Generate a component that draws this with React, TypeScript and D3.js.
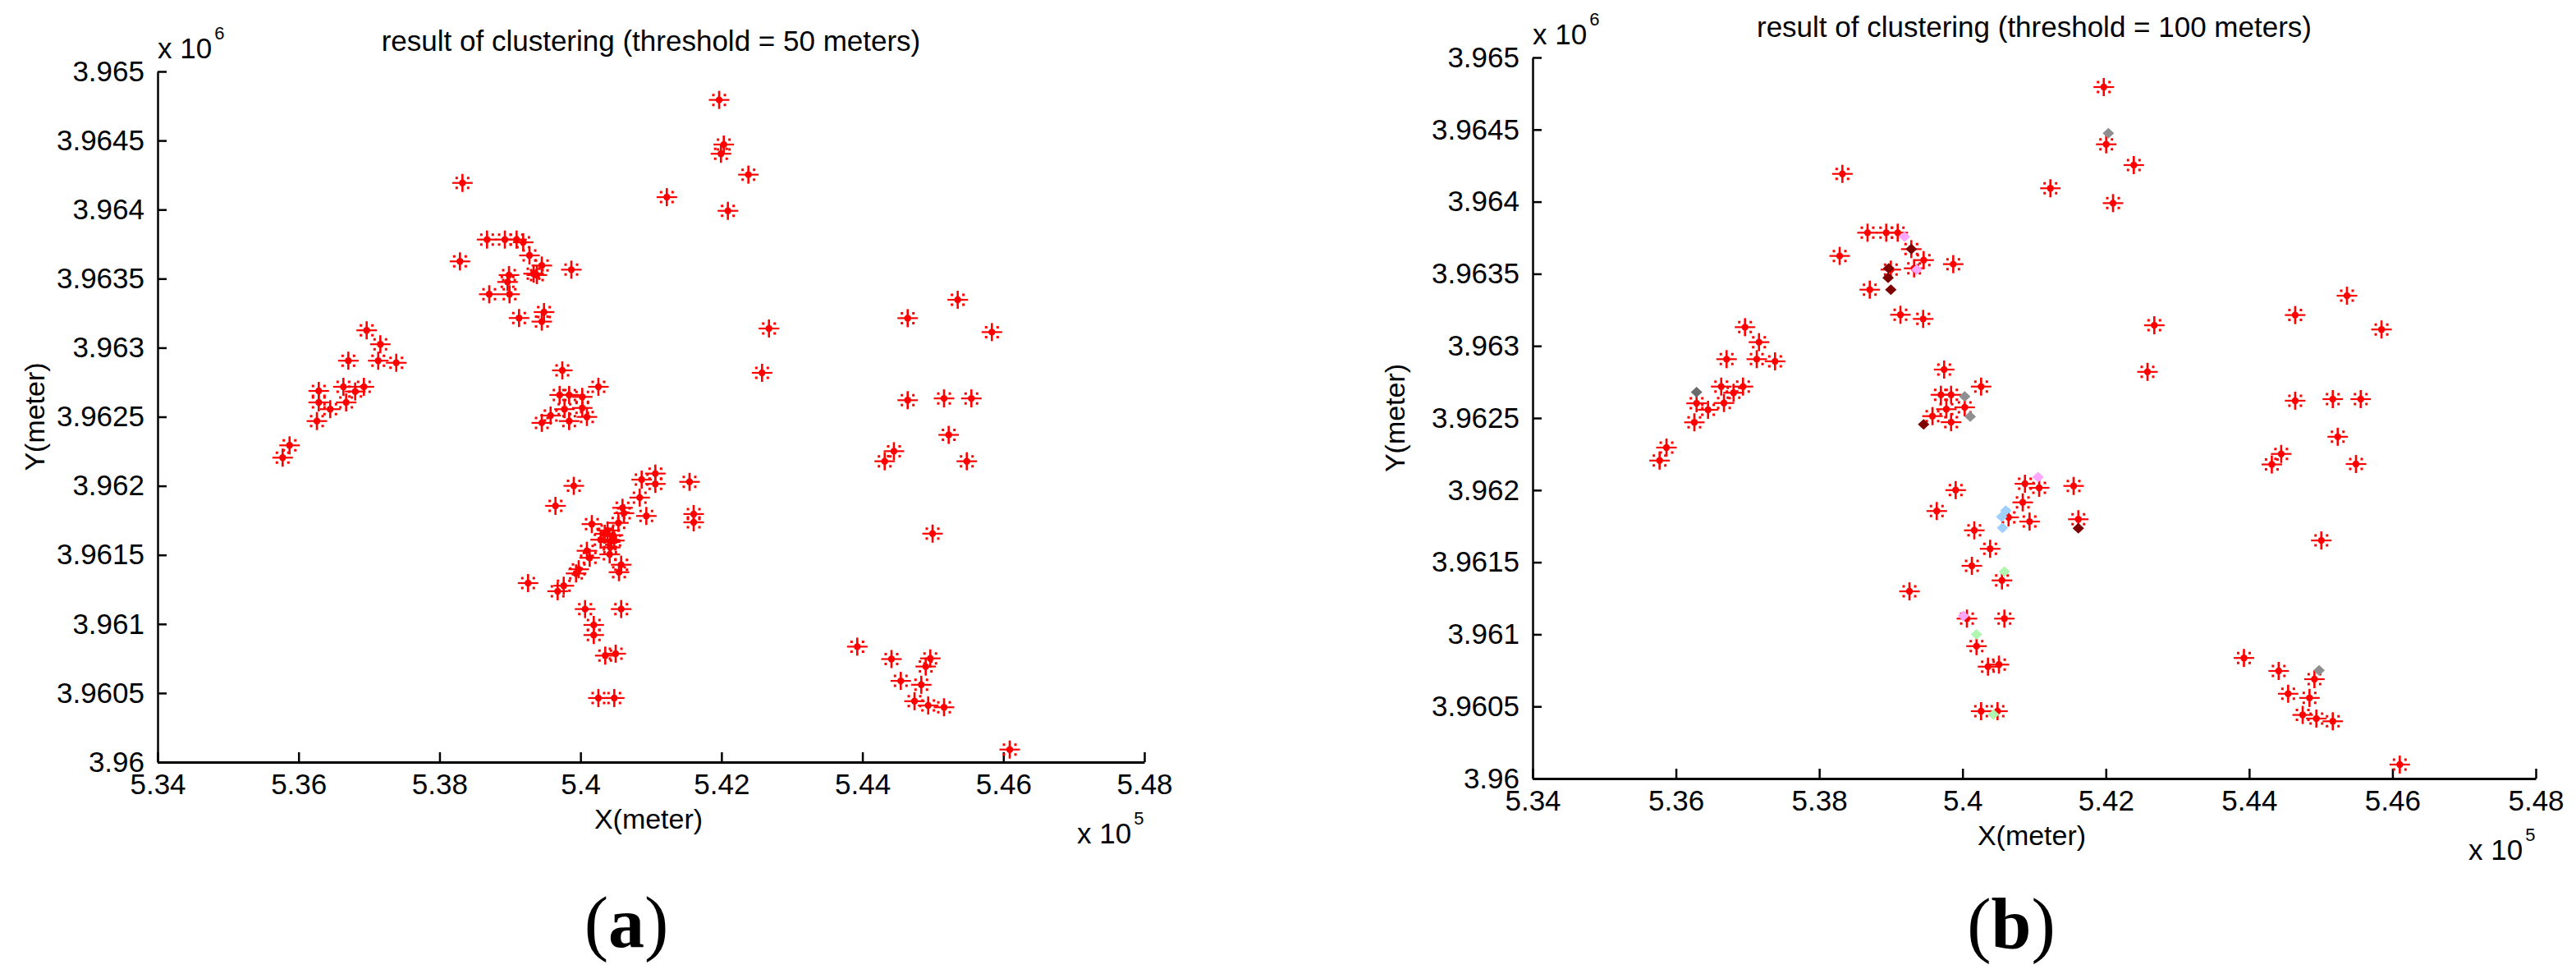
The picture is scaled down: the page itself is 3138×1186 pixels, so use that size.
import React, { useEffect, useRef } from "react";
import * as d3 from "d3";

type Pt = [number, number];
type Center = [number, number, string];

// axis ticks (meters)
const xTicks = [534000, 536000, 538000, 540000, 542000, 544000, 546000, 548000];
const yTicks = [3960000, 3960500, 3961000, 3961500, 3962000, 3962500, 3963000, 3963500, 3964000, 3964500, 3965000];

// (a) threshold = 50 m : every point drawn as a star
const starsA: Pt[] = [
  [538325, 3964193], [538674, 3963783], [538927, 3963783], [539093, 3963783], [539187, 3963763],
  [539276, 3963668], [539451, 3963595], [539334, 3963536], [539381, 3963526], [538290, 3963625],
  [539870, 3963565], [538985, 3963526], [538965, 3963476], [538705, 3963387], [538993, 3963387],
  [539128, 3963215], [539482, 3963258], [539451, 3963189],
  [536966, 3963126], [537160, 3963025], [536706, 3962906], [537130, 3962906], [537386, 3962891],
  [536286, 3962687], [536286, 3962604], [536636, 3962717], [536803, 3962683], [536927, 3962717],
  [536449, 3962555], [536675, 3962604], [536260, 3962469], [535872, 3962293], [535774, 3962204],
  [539742, 3962836], [540254, 3962717], [539704, 3962658], [539839, 3962658], [540025, 3962644],
  [539773, 3962555], [540025, 3962564], [539576, 3962509], [540091, 3962499], [539451, 3962456],
  [539839, 3962469], [539905, 3962000],
  [541967, 3964794], [542033, 3964471], [541993, 3964404], [542382, 3964253], [541225, 3964090],
  [542091, 3963991], [542674, 3963139], [542576, 3962818],
  [539645, 3961855], [541062, 3962089], [540868, 3962045], [541062, 3962014], [541547, 3962029],
  [540840, 3961915], [540596, 3961841], [540616, 3961802], [540538, 3961732], [540934, 3961782],
  [541606, 3961796], [541606, 3961736], [540161, 3961723], [540383, 3961677], [540461, 3961643],
  [540344, 3961653], [540286, 3961610], [540421, 3961594], [540479, 3961604], [540421, 3961554],
  [540091, 3961530], [540414, 3961504], [540130, 3961479], [540577, 3961429], [540546, 3961375],
  [539975, 3961396], [539937, 3961366], [539762, 3961277], [539676, 3961237], [539256, 3961296],
  [540065, 3961108], [540577, 3961108], [540188, 3960993], [540188, 3960920], [540351, 3960771],
  [540499, 3960785], [540254, 3960464], [540479, 3960464],
  [545352, 3963347], [544642, 3963214], [545837, 3963113], [544642, 3962620], [545158, 3962633],
  [545546, 3962633], [545224, 3962369], [544447, 3962251], [544316, 3962178], [545481, 3962178],
  [544995, 3961654], [543927, 3960836], [544412, 3960746], [544963, 3960751], [544898, 3960692],
  [544544, 3960588], [544835, 3960560], [544739, 3960441], [544933, 3960410], [545158, 3960397],
  [546090, 3960091],
];

// (b) threshold = 100 m : remaining stars
const starsB: Pt[] = [
  [538323, 3964193], [538674, 3963785], [538935, 3963785], [539095, 3963785], [539285, 3963671],
  [539457, 3963595], [539324, 3963538], [538999, 3963529], [538285, 3963624], [538705, 3963390],
  [539133, 3963216], [539450, 3963187], [539870, 3963567],
  [536964, 3963130], [537159, 3963026], [536707, 3962908], [537128, 3962908], [537383, 3962893],
  [536632, 3962718], [536804, 3962675], [536936, 3962718], [536288, 3962602], [536448, 3962557],
  [536670, 3962604], [536257, 3962470], [535868, 3962295], [535772, 3962205],
  [541971, 3964795], [542005, 3964398], [542390, 3964254], [541226, 3964093], [542100, 3963990],
  [542676, 3963143], [542581, 3962820],
  [539743, 3962836], [540259, 3962718], [539698, 3962661], [539840, 3962661], [540030, 3962574],
  [539774, 3962561], [539580, 3962513], [539840, 3962471],
  [539904, 3962000], [539640, 3961855], [540871, 3962044], [541069, 3962016], [541550, 3962029],
  [540840, 3961915], [540642, 3961811], [540935, 3961782], [541616, 3961798], [540164, 3961721],
  [540385, 3961593], [540130, 3961475], [540550, 3961374], [539259, 3961298], [540061, 3961109],
  [540584, 3961109], [540195, 3960918], [540355, 3960776], [540508, 3960790], [540259, 3960467],
  [540488, 3960467],
  [545365, 3963348], [544642, 3963214], [545847, 3963114], [544642, 3962620], [545167, 3962631],
  [545557, 3962631], [545236, 3962370], [544447, 3962251], [544316, 3962178], [545491, 3962181],
  [545007, 3961651], [543927, 3960836], [544412, 3960746], [544911, 3960689], [544544, 3960588],
  [544842, 3960559], [544747, 3960441], [544938, 3960416], [545167, 3960397], [546102, 3960097],
];

// (b) merged cluster points (diamonds), by group
const centersB: Center[] = [
  [539285, 3963671, "g1"], [538969, 3963538, "g1"], [538961, 3963472, "g1"], [538999, 3963390, "g1"],
  [539457, 3962456, "g1"], [541616, 3961735, "g1"],
  [539190, 3963757, "g2"], [539362, 3963529, "g2"], [541054, 3962090, "g2"], [540012, 3961127, "g2"],
  [536288, 3962680, "g3"],
  [542035, 3964474, "g4"], [540030, 3962650, "g4"], [540107, 3962510, "g4"], [544976, 3960750, "g4"],
  [540603, 3961858, "g5"], [540546, 3961815, "g5"], [540557, 3961739, "g5"],
  [540584, 3961435, "g6"], [540195, 3961000, "g6"], [540431, 3960444, "g6"],
];

const groupColors: Record<string, string> = {
  g1: "#7f0000", g2: "#ffa6ff", g3: "#6b6b6b", g4: "#8f8f8f", g5: "#9fd0ff", g6: "#b0f5b0",
};

const panels = [
  { left: 192, right: 1394, top: 87, bottom: 928, title: "result of clustering (threshold = 50 meters)",
    tag: "a", tagX: 763, tagY: 1153, yLabelGap: 138, stars: starsA, centers: [] as Center[] },
  { left: 1867, right: 3089, top: 70, bottom: 948, title: "result of clustering (threshold = 100 meters)",
    tag: "b", tagX: 2450, tagY: 1155, yLabelGap: 156, stars: starsB, centers: centersB },
];

const sans = "'Liberation Sans', Arial, Helvetica, sans-serif";
const serif = "'Liberation Serif', 'Times New Roman', serif";

function drawPanel(svg: any, p: typeof panels[number]) {
  const x = d3.scaleLinear().domain([534000, 548000]).range([p.left, p.right]);
  const y = d3.scaleLinear().domain([3960000, 3965000]).range([p.bottom, p.top]);
  const g = svg.append("g").attr("font-family", sans).attr("fill", "#000");

  const xAxis = d3.axisBottom(x).tickValues(xTicks).tickSizeInner(-12).tickSizeOuter(0).tickPadding(14)
    .tickFormat((d: any) => String(+(d / 1e5).toFixed(4)));
  const gx = g.append("g").attr("transform", `translate(0,${p.bottom})`).call(xAxis);
  gx.select(".domain").attr("stroke-width", 3);
  gx.selectAll(".tick line").attr("stroke-width", 2.5);

  const yAxis = d3.axisLeft(y).tickValues(yTicks).tickSizeInner(-11).tickSizeOuter(0).tickPadding(16)
    .tickFormat((d: any) => String(+(d / 1e6).toFixed(4)));
  const gy = g.append("g").attr("transform", `translate(${p.left},0)`).call(yAxis);
  gy.select(".domain").attr("stroke-width", 2.5);
  gy.selectAll(".tick line").attr("stroke-width", 2.5);

  g.selectAll(".tick text").attr("font-size", 35).attr("font-family", sans).attr("fill", "#000");

  // title
  g.append("text").attr("x", (p.left + p.right) / 2).attr("y", p.top - 25)
    .attr("text-anchor", "middle").attr("font-size", 35).text(p.title);

  // exponent labels
  const ey = g.append("text").attr("x", p.left).attr("y", p.top - 16).attr("font-size", 35);
  ey.append("tspan").text("x 10");
  ey.append("tspan").attr("font-size", 22).attr("dx", 3).attr("dy", -23).text("6");

  const ex = g.append("text").attr("x", p.right - 82).attr("y", p.bottom + 99).attr("font-size", 35);
  ex.append("tspan").text("x 10");
  ex.append("tspan").attr("font-size", 22).attr("dx", 3).attr("dy", -23).text("5");

  // axis labels
  g.append("text").attr("x", (p.left + p.right) / 2 - 3).attr("y", p.bottom + 81)
    .attr("text-anchor", "middle").attr("font-size", 34).text("X(meter)");
  g.append("text").attr("transform", `translate(${p.left - p.yLabelGap},${(p.top + p.bottom) / 2}) rotate(-90)`)
    .attr("text-anchor", "middle").attr("font-size", 34).text("Y(meter)");

  // stars
  const star = g.append("g").selectAll("g").data(p.stars).join("g")
    .attr("transform", (d: Pt) => `translate(${x(d[0])},${y(d[1])})`)
    .attr("fill", "#ff0000").attr("stroke", "#ff0000");
  star.append("path").attr("d", "M-12.5,0H12.5").attr("stroke-width", 2.2);
  star.append("path").attr("d", "M0,-11V11").attr("stroke-width", 2.6);
  star.append("circle").attr("r", 4.2).attr("stroke", "none");
  star.append("path").attr("stroke", "none")
    .attr("d", "M-8.5,-7.5h3v3h-3z M5.5,-7.5h3v3h-3z M-8.5,4.5h3v3h-3z M5.5,4.5h3v3h-3z");

  // merged cluster diamonds
  g.append("g").selectAll("path").data(p.centers).join("path")
    .attr("transform", (d: Center) => `translate(${x(d[0])},${y(d[1])})`)
    .attr("d", "M0,-6.5L7,0L0,6.5L-7,0Z")
    .attr("fill", (d: Center) => groupColors[d[2]]);

  // panel tag
  const t = svg.append("text").attr("x", p.tagX).attr("y", p.tagY).attr("text-anchor", "middle")
    .attr("font-family", serif).attr("font-size", 88).attr("fill", "#000");
  t.append("tspan").text("(");
  t.append("tspan").attr("font-weight", "bold").text(p.tag);
  t.append("tspan").text(")");
}

export default function App() {
  const ref = useRef<SVGSVGElement>(null);

  useEffect(() => {
    const svg = d3.select(ref.current);
    svg.selectAll("*").remove();
    panels.forEach((p) => drawPanel(svg, p));
  }, []);

  return (
    <svg ref={ref} width={3138} height={1186}
      style={{ position: "absolute", left: 0, top: 0, background: "#fff" }} />
  );
}
